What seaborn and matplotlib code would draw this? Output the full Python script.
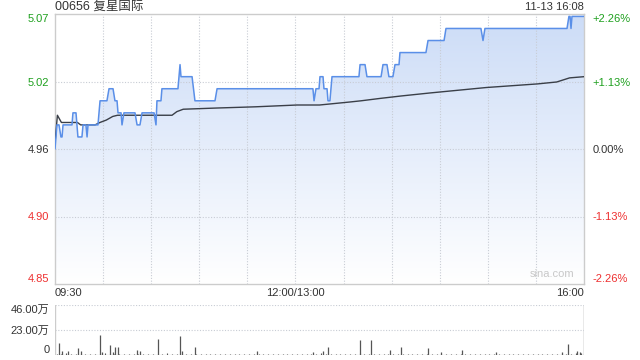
import matplotlib
matplotlib.use("Agg")
import matplotlib.pyplot as plt
import seaborn as sns
import numpy as np
import pandas as pd
from matplotlib.colors import LinearSegmentedColormap
from matplotlib.patches import Polygon

# ---------------- data ----------------
title = "00656 复星国际"
stamp = "11-13 16:08"
prev_close = 4.96
price_ticks = [4.848, 4.904, 4.96, 5.016, 5.072]
price_labels = ["4.85", "4.90", "4.96", "5.02", "5.07"]
pct_labels = ["-2.26%", "-1.13%", "0.00%", "+1.13%", "+2.26%"]
time_ticks = [0, 150, 330]
time_labels = ["09:30", "12:00/13:00", "16:00"]

# minutes since 09:30 (lunch removed) and price
price_t = [0, 1.2, 2.5, 3.7, 4.4, 5.0, 10.6, 11.2, 13.1, 14.3, 16.8, 17.5, 19.3, 20.0,
           20.6, 26.8, 28.1, 32.4, 33.7, 36.2, 37.4, 38.7, 39.3, 41.2, 41.8, 43.0,
           49.9, 51.2, 53.0, 54.3, 61.8, 63.0, 63.6, 66.1, 66.7, 76.7, 78.0, 78.6,
           85.5, 87.3, 99.8, 101.1, 160.9, 161.6, 162.8, 164.7, 165.3, 167.2, 167.8,
           169.7, 170.3, 171.5, 172.8, 189.6, 190.3, 193.4, 194.6, 203.4, 204.6,
           207.1, 208.3, 210.8, 212.1, 214.6, 215.2, 231.4, 232.7, 242.7, 243.9,
           265.7, 267.0, 268.2, 319.4, 320.6, 321.3, 321.9, 322.5, 330]
price_v = [4.96, 4.98, 4.98, 4.97, 4.97, 4.98, 4.98, 4.99, 4.99, 4.97, 4.97, 4.98, 4.98, 4.97,
           4.98, 4.98, 5.00, 5.00, 5.01, 5.01, 5.00, 5.00, 4.99, 4.99, 4.98, 4.99,
           4.99, 4.98, 4.98, 4.99, 4.99, 4.98, 5.00, 5.00, 5.01, 5.01, 5.03, 5.02,
           5.02, 5.00, 5.00, 5.01, 5.01, 5.00, 5.01, 5.01, 5.02, 5.02, 5.01,
           5.01, 5.00, 5.00, 5.02, 5.02, 5.03, 5.03, 5.02, 5.02, 5.03,
           5.03, 5.02, 5.02, 5.03, 5.03, 5.04, 5.04, 5.05, 5.05, 5.06,
           5.06, 5.05, 5.06, 5.06, 5.07, 5.07, 5.06, 5.07, 5.07]

avg_t = [0, 1.5, 4, 14, 16, 25, 28, 32, 36, 39, 73, 76, 80, 101, 125, 151, 165,
         184, 191, 203, 216, 234, 269, 301, 313, 321, 330]
avg_v = [4.965, 4.988, 4.982, 4.982, 4.980, 4.980, 4.982, 4.984, 4.987, 4.988, 4.988,
         4.991, 4.993, 4.994, 4.995, 4.9965, 4.9965, 4.999, 5.000, 5.002, 5.004,
         5.0065, 5.011, 5.014, 5.0156, 5.019, 5.020]

# notable volume bars (万 shares)
vol_t = [2.7, 4.6, 8.3, 14.5, 16.0, 28.1, 29.5, 34.3, 36.0, 37.6, 39.5, 51.4, 53.0,
         64.0, 78.0, 79.5, 87.3, 126.2, 161.0, 167.4, 170.5, 190.3, 197.1, 209.0,
         215.8, 232.9, 241.0, 254.1, 275.1, 316.0, 320.2, 325.5, 327.5, 330.0]
vol_v = [11.0, 4.0, 4.0, 6.0, 4.0, 18.5, 3.0, 9.0, 2.5, 7.0, 7.0, 4.4, 3.4,
         14.7, 17.5, 4.0, 7.2, 4.0, 2.5, 4.0, 7.8, 13.5, 13.5, 5.0,
         7.8, 6.0, 2.5, 5.0, 3.0, 3.0, 9.7, 3.4, 3.0, 46.0]
# background small bars every 3 minutes from 09:30
small_vol = [1.2, 0.8, 1.5, 0.6, 1.0, 0.9, 1.3, 0.7, 1.1, 0.8, 1.4, 1.0, 0.6, 1.2,
             0.9, 1.1, 0.7, 1.3, 0.8, 1.0, 1.2, 0.6, 0.9, 1.4, 0.8, 1.0, 0.7, 1.1,
             0.9, 0.6, 1.2, 0.8, 1.0, 0.7, 0.9, 1.1, 0.6, 0.8, 1.0, 0.7, 1.2, 0.9,
             0.6, 1.0, 0.8, 1.1, 0.7, 0.9, 1.3, 0.8, 1.0, 0.6, 1.2, 0.9, 0.7, 1.5,
             0.8, 1.0, 0.9, 1.2, 0.7, 1.1, 0.8, 1.4, 0.9, 1.0, 0.7, 1.2, 0.8, 1.3,
             0.9, 1.0, 0.6, 1.1, 0.8, 1.2, 0.9, 0.7, 1.0, 0.8, 1.1, 0.6, 0.9, 1.2,
             0.8, 1.0, 0.7, 0.9, 1.1, 0.8, 0.6, 1.0, 0.9, 0.7, 1.2, 0.8, 1.0, 0.9,
             0.7, 1.1, 0.8, 0.6, 1.0, 0.9, 1.2, 0.8, 1.0, 1.3, 1.5, 1.8]
vol_ticks = [0, 23, 46]
vol_labels = ["0", "23.00万", "46.00万"]

# ---------------- style ----------------
sns.set_theme(style="white")
plt.rcParams["font.family"] = ["Liberation Sans", "Noto Sans CJK SC", "DejaVu Sans"]

GREEN = "#1ea01e"
RED = "#ee3030"
DARK = "#333333"
GRID = "#c8ccd4"
BORDER = "#cccccc"

fig = plt.figure(figsize=(6.4, 3.6), dpi=100)
ax = fig.add_axes([55 / 640, 1 - 284 / 360, 529 / 640, 270 / 360])
axv = fig.add_axes([55 / 640, 1 - 355 / 360, 529 / 640, 50 / 360])

ymin, ymax = price_ticks[0], price_ticks[-1]
ax.set_xlim(0, 330)
ax.set_ylim(ymin, ymax)

# gradient fill under price
cmap = LinearSegmentedColormap.from_list("g", ["#ffffff", "#ccdcf7"])
grad = np.linspace(0, 1, 256).reshape(-1, 1)
im = ax.imshow(grad, extent=[0, 330, ymin, ymax], origin="lower", aspect="auto",
               cmap=cmap, zorder=1)
poly = Polygon(list(zip(price_t, price_v)) + [(330, ymin), (0, ymin)], closed=True,
               transform=ax.transData, facecolor="none", edgecolor="none")
ax.add_patch(poly)
im.set_clip_path(poly)

df_p = pd.DataFrame({"t": price_t, "p": price_v})
df_a = pd.DataFrame({"t": avg_t, "p": avg_v})
sns.lineplot(data=df_a, x="t", y="p", ax=ax, color="#3a3f48", linewidth=1.0,
             sort=False, zorder=3)
sns.lineplot(data=df_p, x="t", y="p", ax=ax, color="#5a8fe8", linewidth=1.1,
             sort=False, zorder=4)

# grid
for xv in range(30, 330, 30):
    ax.axvline(xv, color=GRID, linestyle=(0, (1, 1.5)), linewidth=0.8, zorder=2)
for yv in price_ticks[1:-1]:
    ax.axhline(yv, color=GRID, linestyle=(0, (1, 1.5)), linewidth=0.8, zorder=2)

for s in ax.spines.values():
    s.set_color(BORDER)
    s.set_linewidth(1.0)

ax.set_xlabel("")
ax.set_ylabel("")
ax.set_yticks(price_ticks)
ax.set_yticklabels(price_labels)
ax.tick_params(axis="y", length=0, pad=4, labelsize=8)
colors = [RED, RED, DARK, GREEN, GREEN]
for lab, c in zip(ax.get_yticklabels(), colors):
    lab.set_color(c)
ylabs = ax.get_yticklabels()
ylabs[0].set_va("bottom")
ylabs[-1].set_va("top")

ax2 = ax.twinx()
ax2.set_ylim(ymin, ymax)
ax2.set_yticks(price_ticks)
ax2.set_yticklabels(pct_labels)
ax2.tick_params(axis="y", length=0, pad=6, labelsize=8)
for lab, c in zip(ax2.get_yticklabels(), colors):
    lab.set_color(c)
r = ax2.get_yticklabels()
r[0].set_va("bottom")
r[-1].set_va("top")
for s in ax2.spines.values():
    s.set_visible(False)
ax2.grid(False)

ax.set_xticks(time_ticks)
ax.set_xticklabels(time_labels)
ax.tick_params(axis="x", length=0, pad=3, labelsize=8, labelcolor=DARK)
xl = ax.get_xticklabels()
xl[0].set_ha("left")
xl[-1].set_ha("right")

fig.text(55 / 640, 1 - 7 / 360, title, ha="left", va="center", fontsize=9, color=DARK)
fig.text(584 / 640, 1 - 7 / 360, stamp, ha="right", va="center", fontsize=8, color=DARK)
ax.text(0.94, 0.018, "sina.com", transform=ax.transAxes, ha="center", va="bottom",
        fontsize=8, color="#c8c8c8", zorder=5)

# ---------------- volume ----------------
axv.set_xlim(0, 330)
axv.set_ylim(0, 46)
small_t = [3 * i + 1 for i in range(len(small_vol))]
axv.vlines(small_t, 0, small_vol, color="#555555", linewidth=0.8)
axv.vlines(vol_t, 0, vol_v, color="#555555", linewidth=0.9)
for yv in [23, 46]:
    axv.axhline(yv, color=GRID, linestyle=(0, (1, 1.5)), linewidth=0.8)
axv.axhline(0, color="#888888", linewidth=0.8)
for k, s in axv.spines.items():
    s.set_visible(False)
axv.axvline(0, color=BORDER, linewidth=1.0)
axv.set_xticks([])
axv.set_yticks(vol_ticks)
axv.set_yticklabels(vol_labels)
axv.tick_params(axis="y", length=0, pad=4, labelsize=8, labelcolor=DARK)
vl = axv.get_yticklabels()
vl[0].set_va("bottom")
vl[-1].set_va("top")

fig.savefig("out.png", dpi=100)
